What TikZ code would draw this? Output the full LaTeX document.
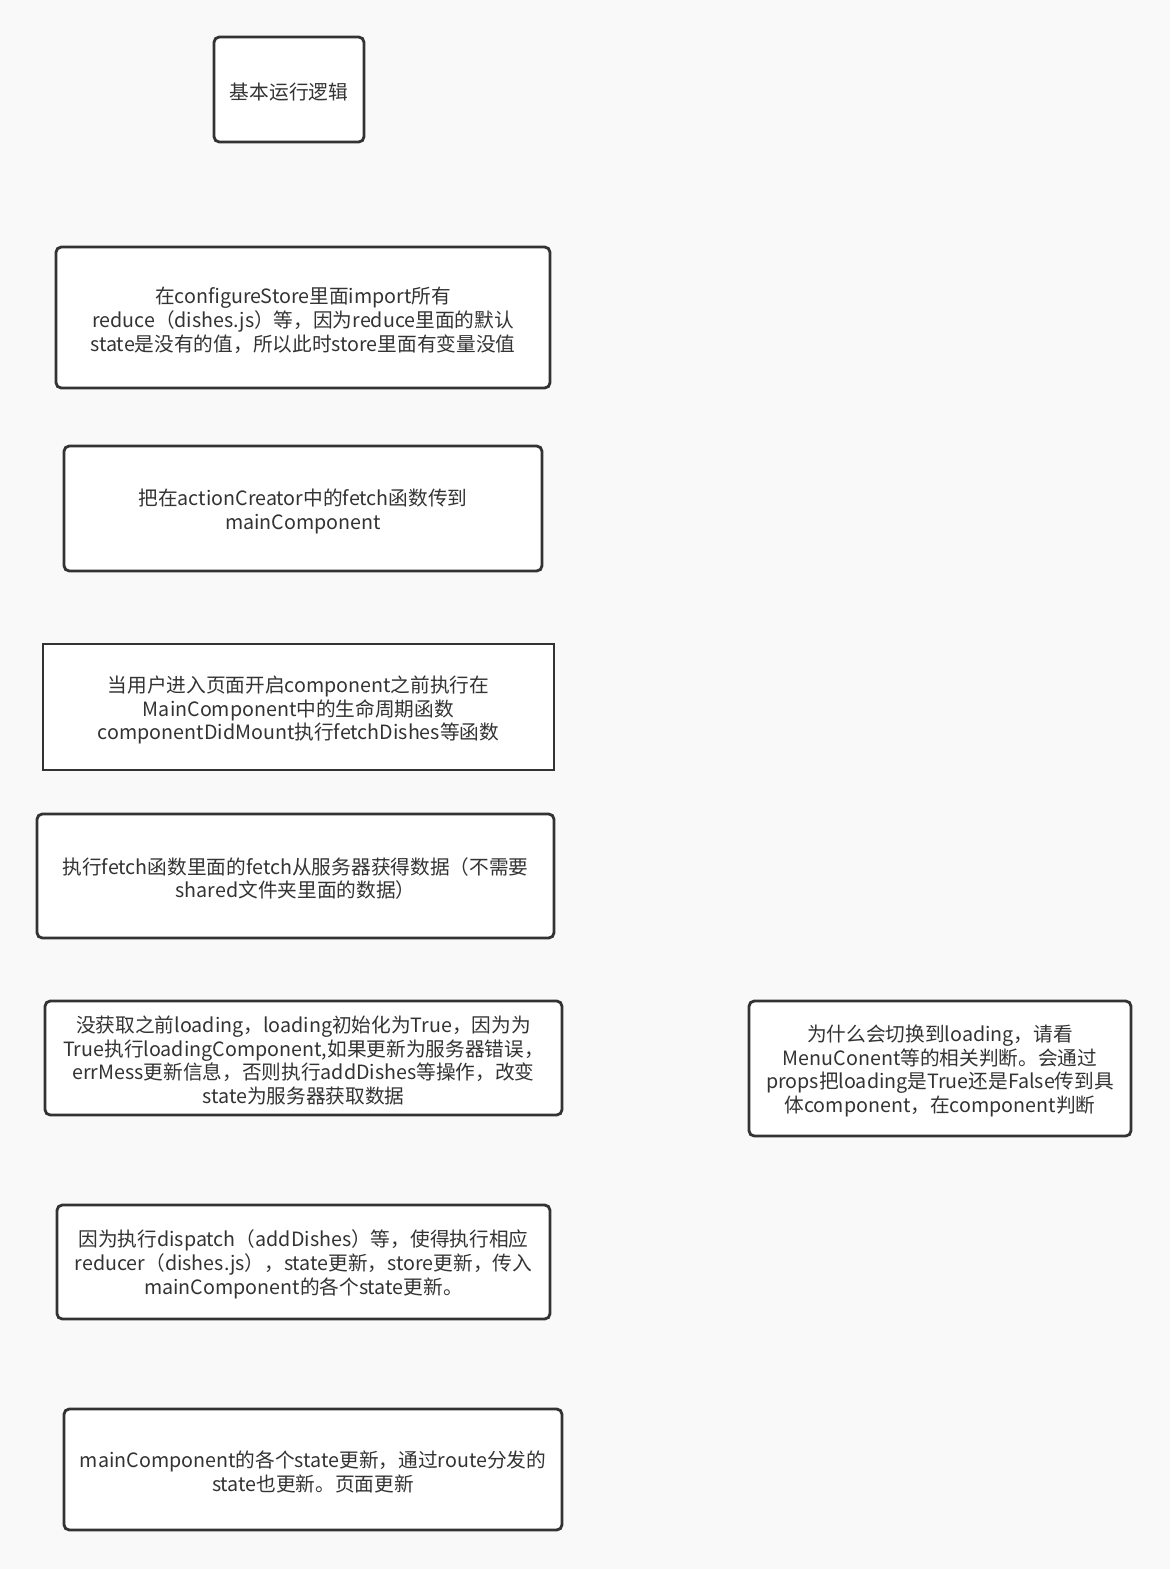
\documentclass[tikz,border=0pt]{standalone}
\usepackage{fontspec}
\setmainfont{Noto Sans CJK SC}
\usetikzlibrary{positioning}
\definecolor{bg}{HTML}{F9F9F9}
\definecolor{edge}{HTML}{333333}
\tikzset{
  card/.style={draw=edge, line width=1.6pt, fill=white, rounded corners=3pt},
  cardtext/.style={align=center, text=edge, font=\fontsize{11.2}{13.6}\selectfont, inner sep=0pt},
}

\begin{document}
\begin{tikzpicture}[x=0.02cm,y=-0.02cm]
\fill[bg] (0,0) rectangle (1170,1569);
\useasboundingbox (0,0) rectangle (1170,1569);
% boxes
\draw[card] (214,37) rectangle (364,142);
\draw[card] (56,247) rectangle (550,388);
\draw[card] (64,446) rectangle (542,571);
\draw[card, sharp corners] (43,644) rectangle (554,770);
\draw[card] (37,814) rectangle (554,938);
\draw[card] (45,1001) rectangle (562,1115);
\draw[card] (749,1001) rectangle (1131,1136);
\draw[card] (57,1205) rectangle (550,1319);
\draw[card] (64,1409) rectangle (562,1530);
% texts
\node[cardtext] (title) at (289,92) {基本运行逻辑};
\node[cardtext] (store) at (303,320) {在configureStore里面import所有\\reduce（dishes.js）等，因为reduce里面的默认\\state是没有的值，所以此时store里面有变量没值};
\node[cardtext] (creator) at (303,511) {把在actionCreator中的fetch函数传到\\mainComponent};
\node[cardtext] (mount) at (298.5,710) {当用户进入页面开启component之前执行在\\MainComponent中的生命周期函数\\componentDidMount执行fetchDishes等函数};
\node[cardtext] (fetch) at (295.5,878.5) {执行fetch函数里面的fetch从服务器获得数据（不需要\\shared文件夹里面的数据）};
\node[cardtext] (loading) at (303.5,1060.5) {没获取之前loading，loading初始化为True，因为为\\True执行loadingComponent,如果更新为服务器错误，\\errMess更新信息，否则执行addDishes等操作，改变\\state为服务器获取数据};
\node[cardtext] (why) at (940,1071) {为什么会切换到loading，请看\\MenuConent等的相关判断。会通过\\props把loading是True还是False传到具\\体component，在component判断};
\node[cardtext] (dispatch) at (303.5,1264.5) {因为执行dispatch（addDishes）等，使得执行相应\\reducer（dishes.js），state更新，store更新，传入\\mainComponent的各个state更新。};
\node[cardtext] (update) at (313,1472) {mainComponent的各个state更新，通过route分发的\\state也更新。页面更新};
\end{tikzpicture}
\end{document}
